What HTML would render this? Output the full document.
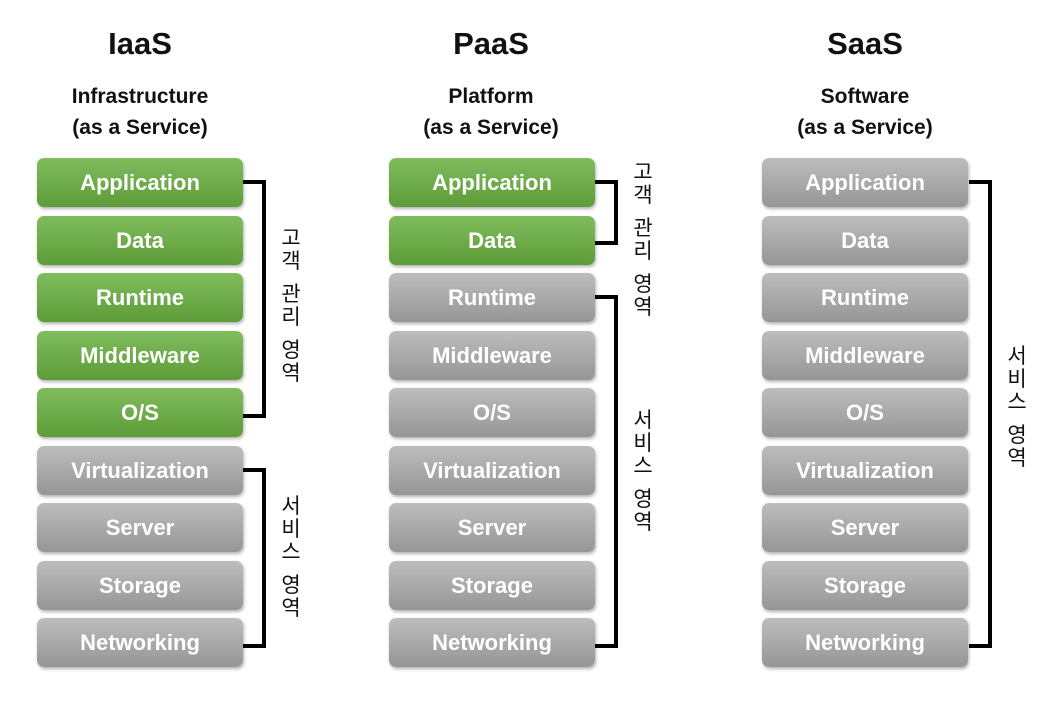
<!DOCTYPE html>
<html><head><meta charset="utf-8"><style>
body{margin:0;width:1058px;height:707px;background:#fff;position:relative;font-family:"Liberation Sans","Noto Sans CJK KR",sans-serif;overflow:hidden}
.t{position:absolute;width:260px;text-align:center;font-weight:bold;color:#111}
.h{font-size:31px;top:26px}
.s{font-size:21px;line-height:31px;top:81px}
.b{position:absolute;width:206px;height:49px;border-radius:7px;color:#fff;font-weight:bold;font-size:22px;line-height:49px;text-align:center;box-shadow:1px 2px 3px rgba(0,0,0,.3)}
.g{background:linear-gradient(#80bc5c,#5d9c39)}
.y{background:linear-gradient(#bdbdbd,#969696)}
.br{position:absolute;border:4px solid #000;border-left:none}
.v{position:absolute;font-size:21px;color:#111;line-height:23px;width:24px;text-align:center}
.v i{display:block;height:10px}
</style></head><body>
<div class="t h" style="left:10px">IaaS</div>
<div class="t s" style="left:10px">Infrastructure<br>(as a Service)</div>
<div class="t h" style="left:361px">PaaS</div>
<div class="t s" style="left:361px">Platform<br>(as a Service)</div>
<div class="t h" style="left:735px">SaaS</div>
<div class="t s" style="left:735px">Software<br>(as a Service)</div>
<div id="c"></div>
<script>
var L=["Application","Data","Runtime","Middleware","O/S","Virtualization","Server","Storage","Networking"];
var cols=[[37,5],[389,2],[762,0]],h="";
cols.forEach(function(c){L.forEach(function(l,i){h+='<div class="b '+(i<c[1]?'g':'y')+'" style="left:'+c[0]+'px;top:'+(158+i*57.5)+'px">'+l+'</div>';});});
document.getElementById('c').innerHTML=h;
</script>
<div class="br" style="left:243px;top:180px;width:19px;height:230px"></div>
<div class="br" style="left:243px;top:468px;width:19px;height:172px"></div>
<div class="br" style="left:595px;top:180px;width:19px;height:57px"></div>
<div class="br" style="left:595px;top:295px;width:19px;height:345px"></div>
<div class="br" style="left:969px;top:180px;width:19px;height:460px"></div>
<div class="v" style="left:279px;top:227px">고<br>객<i></i>관<br>리<i></i>영<br>역</div>
<div class="v" style="left:279px;top:495px">서<br>비<br>스<i></i>영<br>역</div>
<div class="v" style="left:631px;top:161px">고<br>객<i></i>관<br>리<i></i>영<br>역</div>
<div class="v" style="left:631px;top:409px">서<br>비<br>스<i></i>영<br>역</div>
<div class="v" style="left:1005px;top:345px">서<br>비<br>스<i></i>영<br>역</div>
</body></html>
